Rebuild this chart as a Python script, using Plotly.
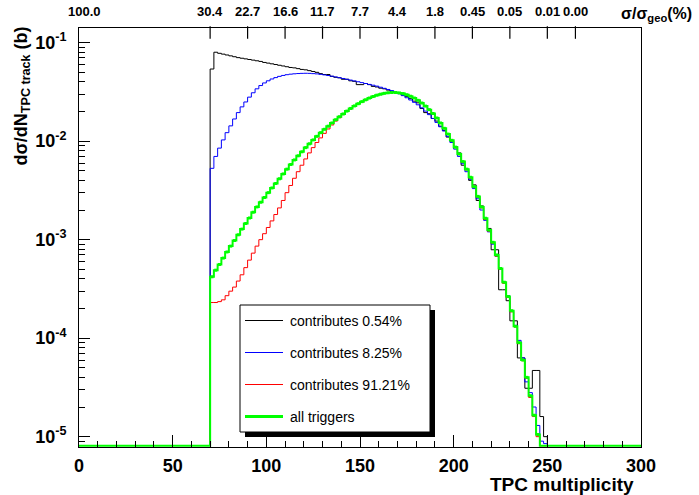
import plotly.graph_objects as go

# ---------------- data ----------------
BIN_LO = 70
BIN_W = 2

black_vals = [5.4e-2, 8.0e-2, 7.8e-2, 7.65e-2, 7.5e-2, 7.35e-2, 7.2e-2, 7.05e-2, 6.95e-2, 6.85e-2,
              6.75e-2, 6.65e-2, 6.55e-2, 6.45e-2, 6.3e-2, 6.2e-2, 6.1e-2, 6.0e-2, 5.9e-2, 5.8e-2,
              5.7e-2, 5.6e-2, 5.55e-2, 5.45e-2, 5.35e-2, 5.3e-2, 5.2e-2, 5.1e-2, 5.0e-2, 4.85e-2,
              4.75e-2, 4.75e-2, 4.55e-2, 4.45e-2, 4.4e-2, 4.25e-2, 4.25e-2, 4.1e-2, 4.05e-2, 3.75e-2,
              3.75e-2, 3.85e-2, 3.75e-2, 3.6e-2, 3.55e-2, 3.45e-2, 3.4e-2, 3.3e-2, 3.2e-2, 3.1e-2,
              3.05e-2, 2.95e-2, 2.85e-2, 2.7e-2, 2.55e-2, 2.45e-2, 2.15e-2, 1.95e-2, 1.9e-2, 1.7e-2,
              1.6e-2, 1.42e-2, 1.28e-2, 1.1e-2, 1.0e-2, 8.8e-3, 7.6e-3, 5.7e-3, 5.2e-3, 4.0e-3,
              3.6e-3, 2.5e-3, 2.2e-3, 1.6e-3, 1.3e-3, 7.9e-4, 7.9e-4, 3.1e-4, 3.1e-4, 2.4e-4,
              1.5e-4, 1.5e-4, 6.3e-5, 6.3e-5, 3.1e-5, 3.1e-5, 4.7e-5, 4.7e-5, 1.6e-5, 1.0e-5]

blue_vals = [5.3e-3, 7.0e-3, 8.5e-3, 1.03e-2, 1.22e-2, 1.43e-2, 1.68e-2, 1.95e-2, 2.23e-2, 2.5e-2,
             2.8e-2, 3.1e-2, 3.4e-2, 3.67e-2, 3.9e-2, 4.1e-2, 4.28e-2, 4.42e-2, 4.55e-2, 4.65e-2,
             4.73e-2, 4.79e-2, 4.83e-2, 4.86e-2, 4.88e-2, 4.89e-2, 4.88e-2, 4.85e-2, 4.82e-2, 4.77e-2,
             4.71e-2, 4.64e-2, 4.57e-2, 4.49e-2, 4.41e-2, 4.33e-2, 4.25e-2, 4.17e-2, 4.09e-2, 4.01e-2,
             3.93e-2, 3.85e-2, 3.77e-2, 3.7e-2, 3.62e-2, 3.53e-2, 3.44e-2, 3.35e-2, 3.26e-2, 3.15e-2,
             3.03e-2, 2.9e-2, 2.76e-2, 2.62e-2, 2.48e-2, 2.34e-2, 2.18e-2, 2.02e-2, 1.86e-2, 1.7e-2,
             1.55e-2, 1.4e-2, 1.27e-2, 1.12e-2, 9.7e-3, 8.3e-3, 7.0e-3, 5.9e-3, 4.9e-3, 4.1e-3,
             3.3e-3, 2.6e-3, 2.0e-3, 1.57e-3, 1.2e-3, 9.0e-4, 6.8e-4, 5.1e-4, 3.7e-4, 2.7e-4,
             1.9e-4, 1.35e-4, 9.5e-5, 6.3e-5, 3.6e-5, 2.8e-5, 2.0e-5, 1.3e-5, 9.0e-6, 8.5e-6]

red_vals = [2.3e-4, 2.3e-4, 2.35e-4, 2.45e-4, 2.7e-4, 3.0e-4, 3.3e-4, 3.8e-4, 4.4e-4, 5.2e-4,
            6.2e-4, 7.3e-4, 8.6e-4, 1.0e-3, 1.15e-3, 1.33e-3, 1.55e-3, 1.8e-3, 2.1e-3, 2.5e-3,
            3.0e-3, 3.55e-3, 4.2e-3, 4.9e-3, 5.7e-3, 6.6e-3, 7.6e-3, 8.6e-3, 9.7e-3, 1.08e-2,
            1.2e-2, 1.33e-2, 1.46e-2, 1.6e-2, 1.73e-2, 1.86e-2, 2.0e-2, 2.13e-2, 2.26e-2, 2.39e-2,
            2.51e-2, 2.62e-2, 2.73e-2, 2.83e-2, 2.92e-2, 2.99e-2, 3.05e-2, 3.09e-2, 3.11e-2, 3.11e-2,
            3.08e-2, 3.03e-2, 2.95e-2, 2.85e-2, 2.73e-2, 2.59e-2, 2.43e-2, 2.26e-2, 2.08e-2, 1.9e-2,
            1.71e-2, 1.52e-2, 1.34e-2, 1.17e-2, 1.01e-2, 8.6e-3, 7.3e-3, 6.1e-3, 5.1e-3, 4.2e-3,
            3.4e-3, 2.7e-3, 2.1e-3, 1.6e-3, 1.22e-3, 9.2e-4, 6.8e-4, 5.0e-4, 3.6e-4, 2.6e-4,
            1.85e-4, 1.3e-4, 8.8e-5, 5.9e-5, 3.9e-5, 2.5e-5, 1.6e-5, 1.0e-5, 0.0, 0.0]

GREEN_LO = 0
green_vals = ([0.0] * 35 +
              [4.2e-4, 4.9e-4, 5.6e-4, 6.5e-4, 7.5e-4, 8.6e-4, 9.8e-4, 1.12e-3, 1.28e-3, 1.46e-3,
               1.66e-3, 1.9e-3, 2.15e-3, 2.4e-3, 2.68e-3, 3.0e-3, 3.35e-3, 3.72e-3, 4.15e-3, 4.65e-3,
               5.2e-3, 5.8e-3, 6.45e-3, 7.1e-3, 7.8e-3, 8.6e-3, 9.4e-3, 1.03e-2, 1.12e-2, 1.22e-2,
               1.32e-2, 1.42e-2, 1.53e-2, 1.65e-2, 1.77e-2, 1.89e-2, 2.02e-2, 2.15e-2, 2.28e-2, 2.4e-2,
               2.52e-2, 2.63e-2, 2.74e-2, 2.84e-2, 2.93e-2, 3.0e-2, 3.06e-2, 3.1e-2, 3.12e-2, 3.12e-2,
               3.09e-2, 3.04e-2, 2.96e-2, 2.86e-2, 2.74e-2, 2.6e-2, 2.44e-2, 2.27e-2, 2.09e-2, 1.91e-2,
               1.72e-2, 1.53e-2, 1.35e-2, 1.18e-2, 1.02e-2, 8.7e-3, 7.4e-3, 6.2e-3, 5.2e-3, 4.3e-3,
               3.45e-3, 2.75e-3, 2.15e-3, 1.65e-3, 1.25e-3, 9.4e-4, 7.0e-4, 5.1e-4, 3.7e-4, 2.65e-4,
               1.9e-4, 1.32e-4, 9.0e-5, 6.0e-5, 4.0e-5, 2.6e-5, 1.65e-5, 1.05e-5] +
              [0.0] * 27)

labels = ["contributes 0.54%", "contributes 8.25%", "contributes 91.21%", "all triggers"]
colors = ["#000000", "#0000ff", "#ff0000", "#00ff00"]

x_ticks = [0, 50, 100, 150, 200, 250, 300]
top_tick_vals = [3, 70, 90, 110, 130, 150, 170, 190, 210, 230, 250, 265]
top_tick_text = ["100.0", "30.4", "22.7", "16.6", "11.7", "7.7", "4.4", "1.8",
                 "0.45", "0.05", "0.01", "0.00"]
y_exponents = [-5, -4, -3, -2, -1]

# ---------------- layout geometry ----------------
W, H = 699, 495
ML, MR, MT, MB = 79, 58, 28, 48
PW, PH = W - ML - MR, H - MT - MB
YLOG = [-5.105, -0.851]
FLOOR = 10 ** (YLOG[0] + 0.012)
FONT = "Liberation Sans, Arial, Helvetica, sans-serif"
TOP_TICKLEN = 9
PX_PER_DECADE = PH / (YLOG[1] - YLOG[0])


def step_xy(lo, w, vals):
    xs, ys = [lo], [FLOOR]
    for i, v in enumerate(vals):
        xs.append(lo + i * w)
        ys.append(max(v, FLOOR))
    end = lo + len(vals) * w
    xs += [end, end]
    ys += [ys[-1], FLOOR]
    return xs, ys


def px2paper_x(px):
    return (px - ML) / PW


def px2paper_y(py):
    return (H - MB - py) / PH


fig = go.Figure()

series = [(BIN_LO, black_vals), (BIN_LO, blue_vals), (BIN_LO, red_vals)]
for (lo, vals), col, name in zip(series, colors[:3], labels[:3]):
    xs, ys = step_xy(lo, BIN_W, vals)
    fig.add_trace(go.Scatter(x=xs, y=ys, mode="lines", line=dict(color=col, width=1, shape="hv"),
                             name=name, showlegend=False, hoverinfo="skip"))

gx, gy = step_xy(GREEN_LO, BIN_W, green_vals)
fig.add_trace(go.Scatter(x=gx, y=gy, mode="lines", line=dict(color=colors[3], width=2, shape="hv"),
                         name=labels[3], showlegend=False, hoverinfo="skip"))
gmx = [GREEN_LO + BIN_W * (i + 0.5) for i, v in enumerate(green_vals) if v > 0]
gmy = [v for v in green_vals if v > 0]
fig.add_trace(go.Scatter(x=gmx, y=gmy, mode="markers",
                         marker=dict(color=colors[3], size=3, symbol="square", line=dict(width=0)),
                         showlegend=False, hoverinfo="skip"))

# top-scale tick marks: vertical-line markers hanging from the top frame
tick_y_top = 10 ** (YLOG[1] - (TOP_TICKLEN / 2) / PX_PER_DECADE)
fig.add_trace(go.Scatter(x=top_tick_vals[1:], y=[tick_y_top] * (len(top_tick_vals) - 1),
                         mode="markers", cliponaxis=False,
                         marker=dict(symbol="line-ns", size=TOP_TICKLEN,
                                     line=dict(color="black", width=1.2)),
                         showlegend=False, hoverinfo="skip"))

minor_y = [m * 10 ** e for e in range(-6, 0) for m in range(2, 10)]

fig.update_layout(
    width=W, height=H,
    margin=dict(l=ML, r=MR, t=MT, b=MB, pad=0, autoexpand=False),
    paper_bgcolor="white", plot_bgcolor="white",
    showlegend=False,
    xaxis=dict(range=[0, 300], showgrid=False, zeroline=False, showline=True, linecolor="black",
               linewidth=1, mirror=True, ticks="inside", ticklen=12, tickcolor="black",
               tickvals=x_ticks, ticktext=[str(v) for v in x_ticks], tickangle=0, automargin=False,
               tickfont=dict(family=FONT, size=18, color="black", weight="bold"),
               ticklabelstandoff=2,
               minor=dict(dtick=10, ticks="inside", ticklen=6, tickcolor="black", showgrid=False)),
    yaxis=dict(type="log", range=YLOG, showgrid=False, zeroline=False, showline=True,
               linecolor="black", linewidth=1, mirror=True, ticks="inside", ticklen=11,
               tickcolor="black", automargin=False,
               tickvals=[10 ** e for e in y_exponents],
               ticktext=["10<sup>%d</sup>" % e for e in y_exponents],
               tickfont=dict(family=FONT, size=18, color="black", weight="bold"),
               ticklabelstandoff=8,
               minor=dict(tickvals=minor_y, ticks="inside", ticklen=6, tickcolor="black",
                          showgrid=False)),
)

annots = []
# top sigma/sigma_geo scale labels placed via the x axis
for tv, tt in zip(top_tick_vals, top_tick_text):
    annots.append(dict(xref="x", yref="paper", x=tv, y=px2paper_y(21), xanchor="center",
                       yanchor="bottom", showarrow=False, text="<b>%s</b>" % tt,
                       font=dict(family=FONT, size=13, color="black")))

annots.append(dict(xref="paper", yref="paper", x=px2paper_x(636), y=px2paper_y(484),
                   xanchor="right", yanchor="middle", showarrow=False,
                   text="<b>TPC multiplicity</b>",
                   font=dict(family=FONT, size=19, color="black")))
annots.append(dict(xref="paper", yref="paper", x=px2paper_x(22), y=px2paper_y(24),
                   xanchor="center", yanchor="top", showarrow=False, textangle=-90,
                   text="<b>d\u03c3/dN<sub>TPC track</sub> (b)</b>",
                   font=dict(family=FONT, size=18, color="black")))
annots.append(dict(xref="paper", yref="paper", x=px2paper_x(619), y=px2paper_y(15),
                   xanchor="left", yanchor="middle", showarrow=False,
                   text="<b>\u03c3/\u03c3<sub>geo</sub>(%)</b>",
                   font=dict(family=FONT, size=16, color="black")))

# legend box (drawn manually, ROOT style with shadow)
LX0, LX1, LY0, LY1 = 240, 430, 305, 432
shapes = [
    dict(type="rect", xref="paper", yref="paper", layer="above",
         x0=px2paper_x(LX0 + 5), x1=px2paper_x(LX1 + 5), y0=px2paper_y(LY1 + 5), y1=px2paper_y(LY0 + 5),
         fillcolor="black", line=dict(width=0)),
    dict(type="rect", xref="paper", yref="paper", layer="above",
         x0=px2paper_x(LX0), x1=px2paper_x(LX1), y0=px2paper_y(LY1), y1=px2paper_y(LY0),
         fillcolor="white", line=dict(color="black", width=1)),
]
rows = [320.5, 352.5, 384.5, 416.5]
widths = [1, 1.2, 1, 3]
for lab, col, ry, lw in zip(labels, colors, rows, widths):
    shapes.append(dict(type="line", xref="paper", yref="paper", layer="above",
                       x0=px2paper_x(245), x1=px2paper_x(283), y0=px2paper_y(ry), y1=px2paper_y(ry),
                       line=dict(color=col, width=lw)))
    annots.append(dict(xref="paper", yref="paper", x=px2paper_x(288), y=px2paper_y(ry),
                       xanchor="left", yanchor="middle", showarrow=False, text=lab,
                       font=dict(family=FONT, size=14, color="black")))

fig.update_layout(shapes=shapes, annotations=annots)
fig.write_html("out.html")
